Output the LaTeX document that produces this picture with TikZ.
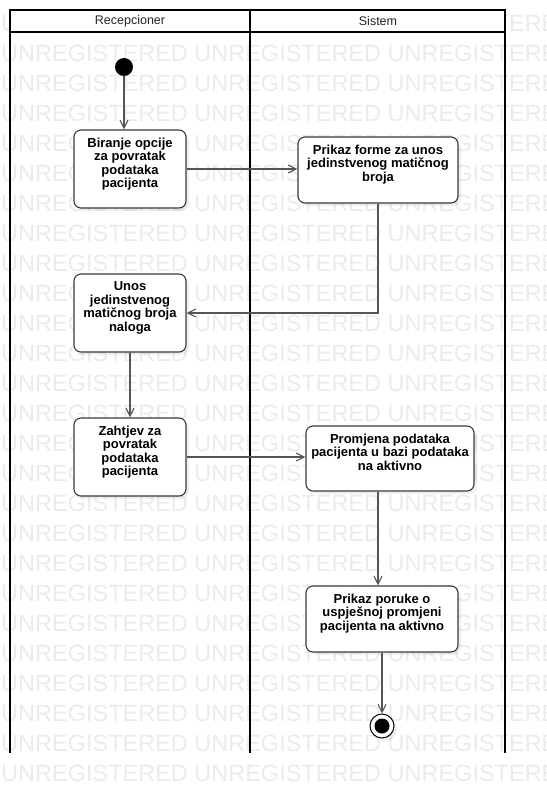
\documentclass[tikz,border=0pt]{standalone}
\usepackage{fontspec}
\setmainfont{Liberation Sans}
\usetikzlibrary{positioning,arrows.meta,shadows,calc}

\definecolor{wmgray}{HTML}{EBEBEB}
\definecolor{edgegray}{HTML}{555555}
\definecolor{boxgray}{HTML}{3A3A3A}

\begin{document}
\begin{tikzpicture}[x=1pt,y=-1pt,
    lane/.style={line width=2pt,black},
    act/.style={draw=boxgray,line width=1.1pt,fill=white,rounded corners=7pt,
      drop shadow={shadow xshift=3pt,shadow yshift=-3pt,opacity=0.12}},
    acttext/.style={inner sep=0pt,align=center,font=\fontsize{13}{13.5}\selectfont\bfseries},
    flow/.style={edgegray,line width=1.1pt,-{Straight Barb[length=8pt,width=8pt]}},
    wm/.style={inner sep=0pt,anchor=base west,text=wmgray,font=\fontsize{23.5}{24}\selectfont}]
    \useasboundingbox (0,0) rectangle (546,794);
    \clip (0,0) rectangle (546,794);

    % Watermark rows
    \foreach \k in {0,...,25}{
      \node[wm] (wm\k) at (1,{31.4+30*\k}) {UNREGISTERED UNREGISTERED UNREGISTERED};
    }

    % Swimlanes
    \draw[lane] (10,32) -- (10,753);
    \draw[lane] (250,10) -- (250,753);
    \draw[lane] (505,32) -- (505,753);
    \filldraw[lane,fill=white] (10,10) rectangle (505,32);
    \draw[lane] (250,10) -- (250,32);
    \node[font=\fontsize{12.5}{13}\selectfont,text=black!85] (hdrL) at (130,21) {Recepcioner};
    \node[font=\fontsize{12.5}{13}\selectfont,text=black!85] (hdrR) at (378,21) {Sistem};

    % Start and end
    \node[circle,fill=black,minimum size=18pt,inner sep=0pt] (init) at (124,67) {};
    \node[circle,draw=black,line width=1pt,fill=white,minimum size=24pt,inner sep=0pt,
      drop shadow={shadow xshift=3pt,shadow yshift=-3pt,opacity=0.12}] (fin) at (382,726) {};
    \fill (fin) circle (7.5pt);

    % Actions
    \node[act,minimum width=112pt,minimum height=78pt] (b1) at (130,169) {};
    \node[act,minimum width=160pt,minimum height=66pt] (b2) at (378,170) {};
    \node[act,minimum width=112pt,minimum height=78pt] (b3) at (130,313) {};
    \node[act,minimum width=112pt,minimum height=78pt] (b4) at (130,457) {};
    \node[act,minimum width=168pt,minimum height=65pt] (b5) at (390,458.5) {};
    \node[act,minimum width=152pt,minimum height=66pt] (b6) at (382,619) {};

    \node[acttext,below=8pt of b1.north] (t1) {Biranje opcije\\za povratak\\podataka\\pacijenta};
    \node[acttext,below=8pt of b2.north] (t2) {Prikaz forme za unos\\jedinstvenog matičnog\\broja};
    \node[acttext,below=8pt of b3.north] (t3) {Unos\\jedinstvenog\\matičnog broja\\naloga};
    \node[acttext,below=8pt of b4.north] (t4) {Zahtjev za\\povratak\\podataka\\pacijenta};
    \node[acttext,below=8pt of b5.north] (t5) {Promjena podataka\\pacijenta u bazi podataka\\na aktivno};
    \node[acttext,below=8pt of b6.north] (t6) {Prikaz poruke o\\uspješnoj promjeni\\pacijenta na aktivno};

    % Flow
    \draw[flow] (init) -- (init |- b1.north);
    \draw[flow] (b1.east) -- (b1.east -| b2.west);
    \draw[flow] (b2.south) |- (b3.east);
    \draw[flow] (b3) -- (b4);
    \draw[flow] (b4.east) -- (b4.east -| b5.west);
    \draw[flow] ([xshift=-12pt]b5.south) -- ([xshift=-12pt]b5.south |- b6.north);
    \draw[flow] (b6) -- (fin);
\end{tikzpicture}
\end{document}
